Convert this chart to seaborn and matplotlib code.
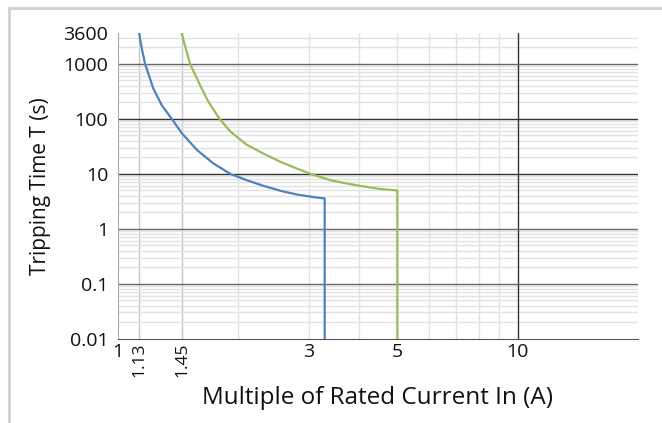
import pandas as pd
import matplotlib
matplotlib.use("Agg")
import matplotlib.pyplot as plt
from matplotlib.lines import Line2D
import seaborn as sns

# Curvas de disparo (lectura aproximada del grafico)
blue_x = [1.13, 1.147, 1.169, 1.226, 1.287, 1.363, 1.444, 1.575, 1.733, 1.909,
          2.10, 2.31, 2.55, 2.80, 3.09, 3.29, 3.29]
blue_t = [3600, 1900, 1000, 356, 177, 100, 55, 27.3, 15.4, 10,
          7.65, 6.05, 4.91, 4.2, 3.76, 3.56, 0.01]
green_x = [1.444, 1.478, 1.515, 1.605, 1.684, 1.795, 1.909, 2.10, 2.31, 2.55,
           2.80, 3.03, 3.40, 3.70, 4.0, 4.5, 5.0, 5.0]
green_t = [3600, 1900, 1000, 408, 204, 100, 59, 33.7, 23.4, 16.5,
           12.5, 10, 7.65, 6.75, 6.1, 5.33, 4.97, 0.01]

x_ticks = [1, 1.13, 1.45, 3, 5, 10]
x_labels = ["1", "1.13", "1.45", "3", "5", "10"]
y_ticks = [0.01, 0.1, 1, 10, 100, 1000, 3600]
y_labels = ["0.01", "0.1", "1", "10", "100", "1000", "3600"]

df = pd.concat([
    pd.DataFrame({"x": blue_x, "t": blue_t, "curve": "low"}),
    pd.DataFrame({"x": green_x, "t": green_t, "curve": "high"}),
], ignore_index=True)

sns.set_style("white")
plt.rcParams["font.family"] = ["Open Sans", "DejaVu Sans"]

fig = plt.figure(figsize=(6.62, 4.23), dpi=100)
ax = fig.add_axes([0.1782, 0.1993, 0.9637 - 0.1782, 0.9213 - 0.1993])

ax.set_xscale("log")
ax.set_yscale("log")
ax.set_xlim(1, 20)
ax.set_ylim(0.01, 3600)

# grilla
for v in [2, 3, 4, 5, 6, 7, 8, 9]:
    ax.axvline(v, color="#e2e2e2", lw=1, zorder=0)
for v in [1.13, 1.45]:
    ax.axvline(v, color="#c4c4c4", lw=1, zorder=0)
ax.axvline(10, color="#333333", lw=1, zorder=1)
for d in [0.01, 0.1, 1, 10, 100, 1000]:
    for m in range(2, 10):
        if d * m < 3600:
            ax.axhline(d * m, color="#e2e2e2", lw=1, zorder=0)
for d in [0.1, 1, 1000]:
    ax.axhline(d, color="#666666", lw=1, zorder=1)
for d in [10, 100]:
    ax.axhline(d, color="#333333", lw=1, zorder=1)

sns.lineplot(data=df, x="x", y="t", hue="curve", palette={"low": "#4F81BD", "high": "#9BBB59"},
             sort=False, estimator=None, legend=False, lw=1.6, ax=ax, zorder=3)

ax.set_xticks(x_ticks)
ax.set_xticklabels(x_labels)
ax.xaxis.set_minor_locator(matplotlib.ticker.NullLocator())
ax.set_yticks(y_ticks)
ax.set_yticklabels(y_labels)
ax.yaxis.set_minor_locator(matplotlib.ticker.NullLocator())
ax.tick_params(axis="both", length=0, labelsize=14, colors="#111111")
ax.tick_params(axis="x", pad=3)
ax.tick_params(axis="y", pad=7)
for lbl in ax.get_xticklabels():
    if lbl.get_text() in ("1.13", "1.45"):
        lbl.set_rotation(90)
        lbl.set_fontsize(12.5)

ax.set_xlabel("Multiple of Rated Current In (A)", fontsize=17.5, labelpad=6, color="#111111")
ax.set_ylabel("Tripping Time T (s)", fontsize=15, labelpad=9, color="#111111")

for s in ["top", "right"]:
    ax.spines[s].set_visible(False)
ax.spines["left"].set_color("#aaaaaa")
ax.spines["bottom"].set_color("#555555")

# marco exterior
fig.add_artist(Line2D([9 / 662, 9 / 662], [0, 1 - 8 / 423], color="#d0d0d0", lw=2))
fig.add_artist(Line2D([9 / 662, 1], [1 - 8 / 423, 1 - 8 / 423], color="#d0d0d0", lw=2))

plt.savefig("out.png", dpi=100)
